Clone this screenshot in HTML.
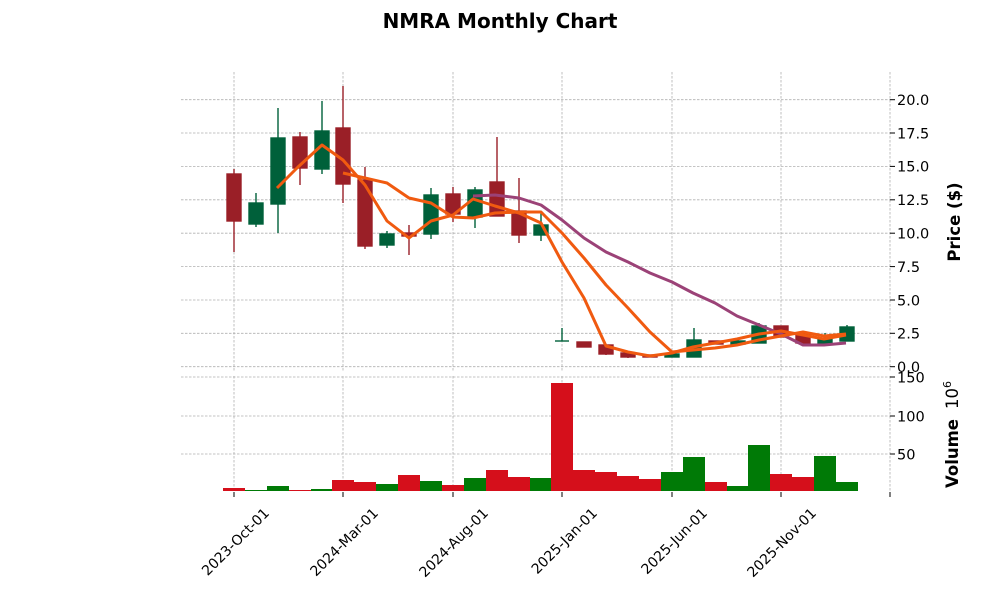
<!DOCTYPE html>
<html><head><meta charset="utf-8"><style>
body{margin:0;background:#fff}
svg{display:block;font-family:"DejaVu Sans","Liberation Sans",sans-serif}
</style></head><body>
<svg width="1000" height="600" viewBox="0 0 1000 600" xmlns="http://www.w3.org/2000/svg">
<text x="500" y="28" text-anchor="middle" font-size="20" font-weight="bold">NMRA Monthly Chart</text>
<g stroke="#b0b0b0" stroke-width="0.8" stroke-dasharray="2.5,1.5" fill="none">
<line x1="181" x2="890" y1="99.7" y2="99.7"/><line x1="181" x2="890" y1="133" y2="133"/>
<line x1="181" x2="890" y1="166.4" y2="166.4"/><line x1="181" x2="890" y1="199.8" y2="199.8"/>
<line x1="181" x2="890" y1="233.2" y2="233.2"/><line x1="181" x2="890" y1="266.6" y2="266.6"/>
<line x1="181" x2="890" y1="300" y2="300"/><line x1="181" x2="890" y1="333.3" y2="333.3"/>
<line x1="181" x2="890" y1="366.7" y2="366.7"/>
<line x1="181" x2="890" y1="377" y2="377"/><line x1="181" x2="890" y1="416" y2="416"/><line x1="181" x2="890" y1="454" y2="454"/>
<line x1="234" x2="234" y1="72" y2="372"/><line x1="343" x2="343" y1="72" y2="372"/><line x1="453" x2="453" y1="72" y2="372"/>
<line x1="562" x2="562" y1="72" y2="372"/><line x1="672" x2="672" y1="72" y2="372"/><line x1="781" x2="781" y1="72" y2="372"/><line x1="890" x2="890" y1="72" y2="372"/>
<line x1="234" x2="234" y1="376" y2="491"/><line x1="343" x2="343" y1="376" y2="491"/><line x1="453" x2="453" y1="376" y2="491"/>
<line x1="562" x2="562" y1="376" y2="491"/><line x1="672" x2="672" y1="376" y2="491"/><line x1="781" x2="781" y1="376" y2="491"/><line x1="890" x2="890" y1="376" y2="491"/>
</g>
<g stroke-width="1.4">
<g fill="#9a1f27" stroke="#9a1f27">
<line x1="234" x2="234" y1="169" y2="252"/><rect x="227" y="174" width="14" height="47"/>
<line x1="300" x2="300" y1="132" y2="185"/><rect x="293" y="137" width="14" height="31"/>
<line x1="343" x2="343" y1="86" y2="203"/><rect x="336" y="128" width="14" height="56"/>
<line x1="365" x2="365" y1="167" y2="249"/><rect x="358" y="180" width="14" height="66"/>
<line x1="409" x2="409" y1="225" y2="255"/><rect x="402" y="233" width="14" height="3"/>
<line x1="453" x2="453" y1="187" y2="222"/><rect x="446" y="194" width="14" height="20"/>
<line x1="497" x2="497" y1="137" y2="216"/><rect x="490" y="182" width="14" height="34"/>
<line x1="519" x2="519" y1="178" y2="243"/><rect x="512" y="211" width="14" height="24"/>
<rect x="577" y="342" width="14" height="5"/>
<line x1="606" x2="606" y1="344" y2="355"/><rect x="599" y="345" width="14" height="9"/>
<line x1="628" x2="628" y1="352" y2="358"/><rect x="621" y="353" width="14" height="4"/>
<rect x="643" y="355" width="14" height="2"/>
<rect x="709" y="341" width="14" height="3"/>
<rect x="774" y="326" width="14" height="11"/>
<rect x="796" y="333" width="14" height="10"/>
</g>
<g fill="#00603a" stroke="#00603a">
<line x1="256" x2="256" y1="193" y2="227"/><rect x="249" y="203" width="14" height="21"/>
<line x1="278" x2="278" y1="108" y2="233"/><rect x="271" y="138" width="14" height="66"/>
<line x1="322" x2="322" y1="101" y2="174"/><rect x="315" y="131" width="14" height="38"/>
<line x1="387" x2="387" y1="231" y2="248"/><rect x="380" y="234" width="14" height="11"/>
<line x1="431" x2="431" y1="188" y2="239"/><rect x="424" y="195" width="14" height="39"/>
<line x1="475" x2="475" y1="187" y2="228"/><rect x="468" y="190" width="14" height="27"/>
<line x1="541" x2="541" y1="213" y2="241"/><rect x="534" y="225" width="14" height="10"/>
<line x1="562" x2="562" y1="328" y2="341"/><line x1="555" x2="569" y1="341" y2="341"/>
<rect x="665" y="354" width="14" height="3"/>
<line x1="694" x2="694" y1="328" y2="357"/><rect x="687" y="340" width="14" height="17"/>
<line x1="738" x2="738" y1="338" y2="346"/><rect x="731" y="341" width="14" height="3"/>
<line x1="759" x2="759" y1="323" y2="343"/><rect x="752" y="326" width="14" height="17"/>
<line x1="825" x2="825" y1="333" y2="343"/><rect x="818" y="339" width="14" height="4"/>
<line x1="847" x2="847" y1="325" y2="341"/><rect x="840" y="327" width="14" height="14"/>
</g>
</g>
<g fill="none" stroke-width="3" stroke-linejoin="round">
<polyline stroke="#9b4277" points="473,196 495,195 519,198 541,205 562,220 584,238 606,252 628,262 650,273 672,282 693,293 715,303 737,316 759,325 781,334 803,345 824,345 846,343"/>
<polyline stroke="#f05a10" points="343,173 365,178 387,183 409,198 431,203 453,217 473,218 495,213 519,212 541,212 562,233 584,258 606,285 628,308 650,332 672,352 693,350 715,348 737,345 759,340 781,336 803,332 824,336 846,334"/>
<polyline stroke="#f05a10" points="277,188 298,167 322,145 343,160 365,185 387,221 409,238 431,221 453,215 473,199 495,206 519,213 541,223 562,262 584,298 606,346 628,352 650,356 672,353 693,347 715,343 737,339 759,334 781,331 803,335 824,339 846,335"/>
</g>
<g>
<rect x="223" y="488" width="22" height="3" fill="#d50f1b"/>
<rect x="245" y="490" width="22" height="1" fill="#007a06"/>
<rect x="267" y="486" width="22" height="5" fill="#007a06"/>
<rect x="289" y="490" width="22" height="1" fill="#d50f1b"/>
<rect x="311" y="489" width="22" height="2" fill="#007a06"/>
<rect x="332" y="480" width="22" height="11" fill="#d50f1b"/>
<rect x="354" y="482" width="22" height="9" fill="#d50f1b"/>
<rect x="376" y="484" width="22" height="7" fill="#007a06"/>
<rect x="398" y="475" width="22" height="16" fill="#d50f1b"/>
<rect x="420" y="481" width="22" height="10" fill="#007a06"/>
<rect x="442" y="485" width="22" height="6" fill="#d50f1b"/>
<rect x="464" y="478" width="22" height="13" fill="#007a06"/>
<rect x="486" y="470" width="22" height="21" fill="#d50f1b"/>
<rect x="508" y="477" width="22" height="14" fill="#d50f1b"/>
<rect x="530" y="478" width="22" height="13" fill="#007a06"/>
<rect x="551" y="383" width="22" height="108" fill="#d50f1b"/>
<rect x="573" y="470" width="22" height="21" fill="#d50f1b"/>
<rect x="595" y="472" width="22" height="19" fill="#d50f1b"/>
<rect x="617" y="476" width="22" height="15" fill="#d50f1b"/>
<rect x="639" y="479" width="22" height="12" fill="#d50f1b"/>
<rect x="661" y="472" width="22" height="19" fill="#007a06"/>
<rect x="683" y="457" width="22" height="34" fill="#007a06"/>
<rect x="705" y="482" width="22" height="9" fill="#d50f1b"/>
<rect x="727" y="486" width="22" height="5" fill="#007a06"/>
<rect x="748" y="445" width="22" height="46" fill="#007a06"/>
<rect x="770" y="474" width="22" height="17" fill="#d50f1b"/>
<rect x="792" y="477" width="22" height="14" fill="#d50f1b"/>
<rect x="814" y="456" width="22" height="35" fill="#007a06"/>
<rect x="836" y="482" width="22" height="9" fill="#007a06"/>
</g>
<g stroke="#000" stroke-width="1">
<line x1="890" x2="895" y1="99.7" y2="99.7"/><line x1="890" x2="895" y1="133" y2="133"/><line x1="890" x2="895" y1="166.4" y2="166.4"/>
<line x1="890" x2="895" y1="199.8" y2="199.8"/><line x1="890" x2="895" y1="233.2" y2="233.2"/><line x1="890" x2="895" y1="266.6" y2="266.6"/>
<line x1="890" x2="895" y1="300" y2="300"/><line x1="890" x2="895" y1="333.3" y2="333.3"/><line x1="890" x2="895" y1="366.7" y2="366.7"/>
<line x1="890" x2="895" y1="377" y2="377"/><line x1="890" x2="895" y1="416" y2="416"/><line x1="890" x2="895" y1="454" y2="454"/>
<line x1="234" x2="234" y1="492" y2="497"/><line x1="343" x2="343" y1="492" y2="497"/><line x1="453" x2="453" y1="492" y2="497"/>
<line x1="562" x2="562" y1="492" y2="497"/><line x1="672" x2="672" y1="492" y2="497"/><line x1="781" x2="781" y1="492" y2="497"/><line x1="890" x2="890" y1="492" y2="497"/>
</g>
<g font-size="14.5" fill="#000">
<text x="897" y="105">20.0</text><text x="897" y="138.3">17.5</text><text x="897" y="171.7">15.0</text>
<text x="897" y="205">12.5</text><text x="897" y="238.5">10.0</text><text x="897" y="272">7.5</text>
<text x="897" y="305.3">5.0</text><text x="897" y="338.6">2.5</text><text x="897" y="372">0.0</text>
<text x="897" y="382.5">150</text><text x="897" y="421.3">100</text><text x="897" y="459.3">50</text>
</g>
<text transform="translate(960,222) rotate(-90)" text-anchor="middle" font-size="16.5" font-weight="bold">Price ($)</text>
<text transform="translate(958,488) rotate(-90)" text-anchor="start" font-size="16.5"><tspan font-weight="bold">Volume</tspan><tspan dx="10">10</tspan><tspan dy="-7" font-size="11">6</tspan></text>
<g font-size="14">
<text transform="translate(270,514) rotate(-45)" text-anchor="end">2023-Oct-01</text>
<text transform="translate(379,514) rotate(-45)" text-anchor="end">2024-Mar-01</text>
<text transform="translate(489,514) rotate(-45)" text-anchor="end">2024-Aug-01</text>
<text transform="translate(598,514) rotate(-45)" text-anchor="end">2025-Jan-01</text>
<text transform="translate(708,514) rotate(-45)" text-anchor="end">2025-Jun-01</text>
<text transform="translate(817,514) rotate(-45)" text-anchor="end">2025-Nov-01</text>
</g>
</svg>
</body></html>
